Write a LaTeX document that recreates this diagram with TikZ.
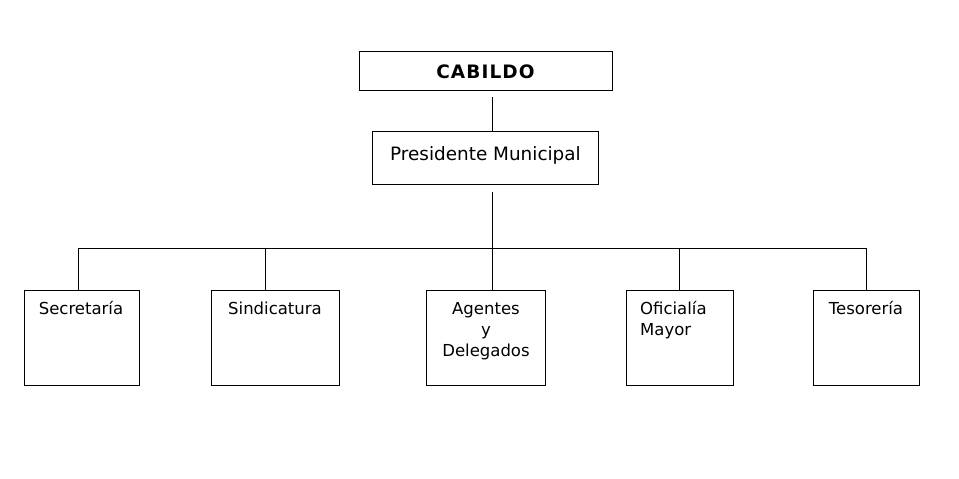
\documentclass[tikz,border=0pt]{standalone}
\usepackage{fontspec}
\setmainfont{DejaVu Sans}
\begin{document}
\begin{tikzpicture}[x=1pt,y=-1pt,
  box/.style={draw=black,line width=1pt,inner sep=0pt,fill=none},
  lbl/.style={inner sep=0pt,anchor=base,font=\fontsize{16.5}{20}\selectfont},
  conn/.style={draw=black,line width=1pt}]
\useasboundingbox[fill=white] (0,0) rectangle (959,479);
% boxes
\node[box,minimum width=253pt,minimum height=39pt] (cab) at (485.5,70.5) {};
\node[box,minimum width=226pt,minimum height=53pt] (pres) at (485,157.5) {};
\node[box,minimum width=115pt,minimum height=95pt] (sec) at (81.5,337.5) {};
\node[box,minimum width=128pt,minimum height=95pt] (sin) at (275,337.5) {};
\node[box,minimum width=119pt,minimum height=95pt] (age) at (485.5,337.5) {};
\node[box,minimum width=107pt,minimum height=95pt] (ofi) at (679.5,337.5) {};
\node[box,minimum width=106pt,minimum height=95pt] (tes) at (866,337.5) {};
% texts
\node[lbl,font=\fontsize{18.5}{22}\selectfont\bfseries\addfontfeature{LetterSpace=6}] (tcab) at (485.5,78) {CABILDO};
\node[lbl,font=\fontsize{18.4}{22}\selectfont] (tpres) at (485.5,160.5) {Presidente Municipal};
\node[lbl] (tsec) at (81,314) {Secretaría};
\node[lbl] (tsin) at (275,314) {Sindicatura};
\node[lbl] (tage1) at (486,314) {Agentes};
\node[lbl] (tage2) at (486,335) {y};
\node[lbl] (tage3) at (486,356) {Delegados};
\node[lbl,anchor=base west] (tofi1) at (640,314) {Oficialía};
\node[lbl,anchor=base west] (tofi2) at (640,335) {Mayor};
\node[lbl] (ttes) at (866,314) {Tesorería};
% connector points
\coordinate (c1) at (492,97);
\coordinate (c2) at (492,192);
\coordinate (hl) at (78,248);
\coordinate (hr) at (866,248);
\coordinate (hm) at (492,248);
\coordinate (h2) at (265,248);
\coordinate (h4) at (679,248);
% connectors
\draw[conn] (c1) -- (c1 |- pres.north);
\draw[conn] (c2) -- (hm);
\draw[conn] (hl) -- (hr);
\draw[conn] (hl) -- (hl |- sec.north);
\draw[conn] (h2) -- (h2 |- sin.north);
\draw[conn] (hm) -- (hm |- age.north);
\draw[conn] (h4) -- (h4 |- ofi.north);
\draw[conn] (hr) -- (hr |- tes.north);
\end{tikzpicture}
\end{document}
